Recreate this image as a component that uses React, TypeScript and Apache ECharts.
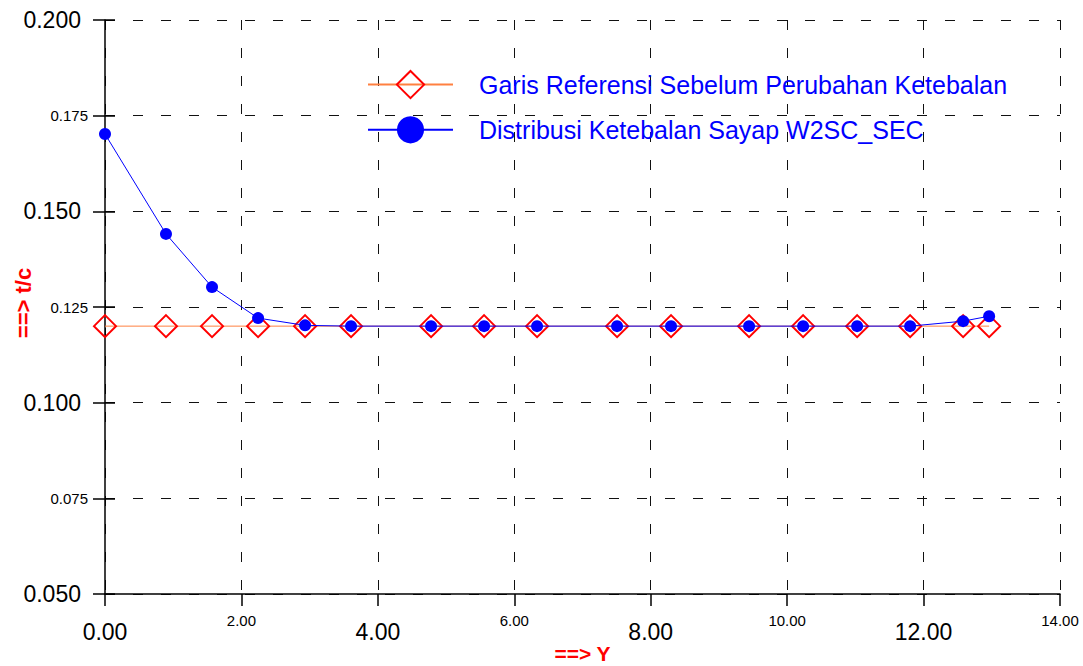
import React, { useEffect, useRef } from "react";
import * as echarts from "echarts";

// Spanwise stations (Y) and thickness ratio (t/c) values
const stationY = [
  0, 0.894, 1.569, 2.244, 2.933, 3.607, 4.78, 5.557, 6.334, 7.507, 8.298,
  9.442, 10.234, 11.026, 11.803, 12.58, 12.961,
];
const referenceTC = [
  0.12, 0.12, 0.12, 0.12, 0.12, 0.12, 0.12, 0.12, 0.12, 0.12, 0.12, 0.12,
  0.12, 0.12, 0.12, 0.12, 0.12,
];
const distributionTC = [
  0.1702, 0.1441, 0.1302, 0.1221, 0.1202, 0.12, 0.12, 0.12, 0.12, 0.12, 0.12,
  0.12, 0.12, 0.12, 0.12, 0.1213, 0.1226,
];
const seriesNames = [
  "Garis Referensi Sebelum Perubahan Ketebalan",
  "Distribusi Ketebalan Sayap W2SC_SEC",
];
const xAxisName = "==> Y";
const yAxisName = "==> t/c";

const FONT = "'Liberation Sans', Arial, Helvetica, sans-serif";

export default function App() {
  const ref = useRef<HTMLDivElement>(null);

  useEffect(() => {
    if (!ref.current) return;
    const chart = echarts.init(ref.current, null, { renderer: "svg" });

    const pairs = (ys: number[]) => stationY.map((x, i) => [x, ys[i]]);
    const dashed = { color: "#111", width: 1, type: [10, 18] as number[] };

    chart.setOption({
      animation: false,
      backgroundColor: "#fff",
      textStyle: { fontFamily: FONT },
      grid: {
        left: 105,
        right: 23,
        top: 20,
        bottom: 72,
        containLabel: false,
        outerBoundsMode: "none",
      },
      legend: {
        orient: "vertical",
        left: 362,
        top: 65,
        itemWidth: 85,
        itemHeight: 34,
        itemGap: 17,
        selectedMode: false,
        textStyle: {
          color: "#0000ff",
          fontSize: 25,
          fontFamily: FONT,
          padding: [0, 0, 0, 21],
        },
        data: seriesNames,
      },
      xAxis: {
        type: "value",
        min: 0,
        max: 14,
        interval: 2,
        name: xAxisName,
        nameLocation: "middle",
        nameGap: 49,
        nameMoveOverlap: false,
        nameTextStyle: {
          color: "#ff0000",
          fontWeight: "bold",
          fontSize: 21,
          fontFamily: FONT,
        },
        axisLine: { show: true, lineStyle: { color: "#000", width: 1.5 } },
        axisTick: { show: true, length: 12, lineStyle: { color: "#000", width: 1.5 } },
        splitLine: { show: true, lineStyle: dashed },
        axisLabel: {
          margin: 19,
          color: "#000",
          formatter: (v: number) => {
            const big = Math.round(v / 2) % 2 === 0;
            return big ? `{big|${v.toFixed(2)}}` : `{small|${v.toFixed(2)}}`;
          },
          rich: {
            big: { fontSize: 23, lineHeight: 38, fontFamily: FONT, color: "#000" },
            small: { fontSize: 15, lineHeight: 14, fontFamily: FONT, color: "#000" },
          },
        },
      },
      yAxis: [
        {
          type: "value",
          min: 0.05,
          max: 0.2,
          interval: 0.025,
          name: yAxisName,
          nameLocation: "middle",
          nameGap: 71,
          nameRotate: 90,
          nameMoveOverlap: false,
          nameTextStyle: {
            color: "#ff0000",
            fontWeight: "bold",
            fontSize: 22,
            fontFamily: FONT,
            padding: [0, 0, 0, 8],
          },
          axisLine: { show: true, lineStyle: { color: "#000", width: 1.5 } },
          axisTick: { show: true, length: 12, lineStyle: { color: "#000", width: 1.5 } },
          splitLine: { show: true, lineStyle: dashed },
          axisLabel: {
            margin: 17,
            color: "#000",
            formatter: (v: number) => {
              const big = Math.round(v / 0.025) % 2 === 0;
              return big ? `{big|${v.toFixed(3)}}` : `{small|${v.toFixed(3)}}`;
            },
            rich: {
              big: { fontSize: 23, fontFamily: FONT, color: "#000", padding: [0, 7, 0, 0] },
              small: { fontSize: 15, fontFamily: FONT, color: "#000" },
            },
          },
        },
        {
          // inner half of the crossing ticks on the vertical axis
          type: "value",
          min: 0.05,
          max: 0.2,
          interval: 0.025,
          position: "left",
          axisLine: { show: false },
          axisTick: {
            show: true,
            inside: true,
            length: 10,
            lineStyle: { color: "#000", width: 1.5 },
          },
          axisLabel: { show: false },
          splitLine: { show: false },
        },
      ],
      series: [
        {
          name: seriesNames[0],
          type: "line",
          data: pairs(referenceTC),
          symbol: "diamond",
          symbolSize: 22,
          lineStyle: { color: "#ff8040", width: 1 },
          itemStyle: { color: "rgba(0,0,0,0)", borderColor: "#ff0000", borderWidth: 2 },
          emphasis: { disabled: true },
          z: 2,
        },
        {
          name: seriesNames[1],
          type: "line",
          data: pairs(distributionTC),
          symbol: "circle",
          symbolSize: 12,
          lineStyle: { color: "#0000ff", width: 1 },
          itemStyle: { color: "#0000ff" },
          emphasis: { disabled: true },
          z: 3,
        },
      ],
    });

    return () => chart.dispose();
  }, []);

  return (
    <div
      ref={ref}
      style={{ width: 1083, height: 666, position: "absolute", left: 0, top: 0 }}
    />
  );
}
